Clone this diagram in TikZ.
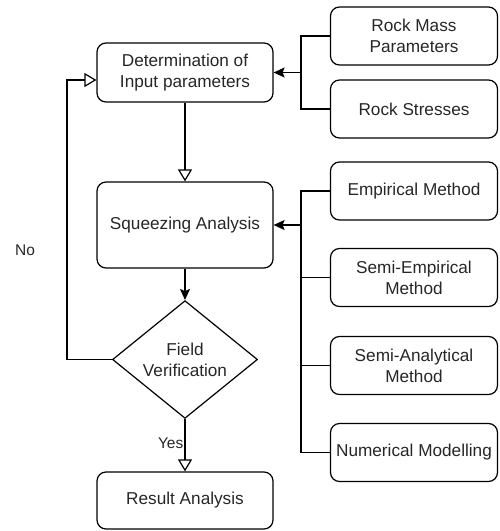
\documentclass[tikz,border=0pt]{standalone}
\usepackage{fontspec}
\setmainfont{Liberation Sans}
\usetikzlibrary{shapes.geometric,arrows.meta}

\tikzset{
    box/.style={draw, rounded corners=9pt, line width=1.2pt, align=center, text=black!85,
        font=\fontsize{17.2}{21}\selectfont, inner sep=0pt},
    choice/.style={draw, diamond, line width=1.2pt, align=center, text=black!85,
        font=\fontsize{17.2}{21}\selectfont, inner sep=0pt, minimum width=145pt, minimum height=115pt},
    lbl/.style={text=black!85, font=\fontsize{15.5}{18}\selectfont, inner sep=0pt},
    link/.style={line width=1.2pt},
    fill arrow/.style={link, -{Stealth[length=11pt, width=10pt, inset=2pt]}},
    open arrow/.style={link, -{Triangle[open, length=12pt, width=14pt]}}
}

\begin{document}
\begin{tikzpicture}[x=1pt, y=-1pt]
        \useasboundingbox (0,0) rectangle (499,531);

        \node[box, minimum width=176pt, minimum height=59pt] (det) at (185,72.5) {Determination of\\Input parameters};
        \node[box, minimum width=176pt, minimum height=86pt] (sq) at (185,225) {Squeezing Analysis};
        \node[choice] (fv) at (185,359.5) {Field\\Verification};
        \node[box, minimum width=176pt, minimum height=57pt] (res) at (185,500.5) {Result Analysis};

        \node[box, minimum width=167pt, minimum height=58pt] (rm) at (414,36) {Rock Mass\\Parameters};
        \node[box, minimum width=167pt, minimum height=58pt] (rs) at (414,109) {Rock Stresses};
        \node[box, minimum width=167pt, minimum height=58pt] (em) at (414,191) {Empirical Method};
        \node[box, minimum width=167pt, minimum height=58pt] (se) at (414,277.5) {Semi-Empirical\\Method};
        \node[box, minimum width=167pt, minimum height=58pt] (sa) at (414,365.5) {Semi-Analytical\\Method};
        \node[box, minimum width=167pt, minimum height=58pt] (nm) at (414,452.5) {Numerical Modelling};

        \node[lbl] (no) at (25,250) {No};
        \node[lbl, anchor=east] (yes) at (183.5,443) {Yes};

        \coordinate (b1) at (301,72.5);
        \coordinate (b2) at (301,225);

        % inputs
        \draw[link] (rm.west) -| (b1) |- (rs.west);
        \draw[fill arrow] (b1) -- (det.east);

        % methods
        \draw[link] (em.west) -| (b2) |- (nm.west);
        \draw[link] (se.west) -- (se.west -| b2);
        \draw[link] (sa.west) -- (sa.west -| b2);
        \draw[fill arrow] (b2) -- (sq.east);

        \draw[open arrow] (det) -- (sq);
        \draw[fill arrow] (sq) -- (fv);
        \draw[open arrow] (fv) -- (res);
        \draw[open arrow] (fv.west) -- ++(-45,0) |- ([yshift=-7.5pt]det.west);

    \end{tikzpicture}
\end{document}
